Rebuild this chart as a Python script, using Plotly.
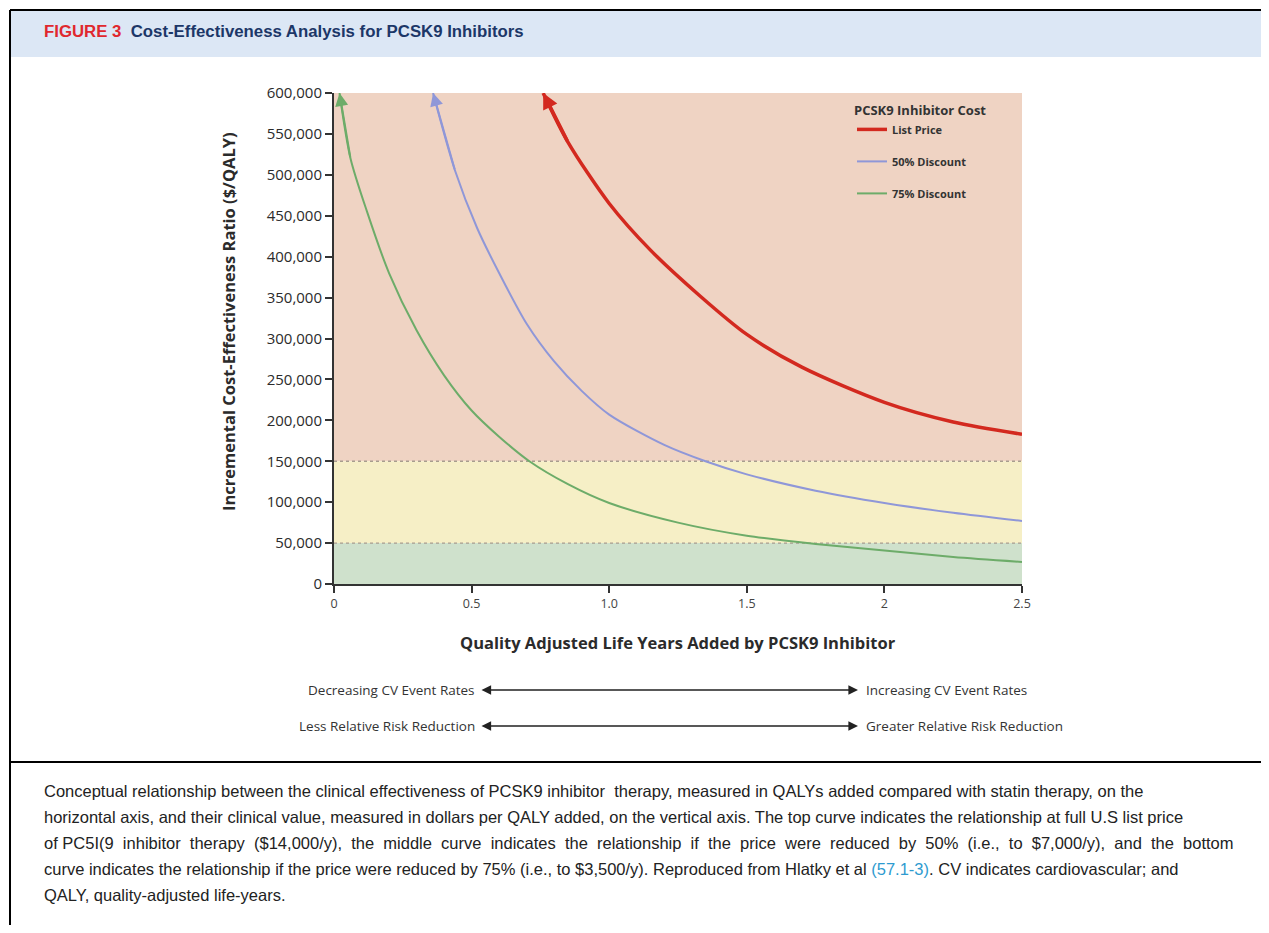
"""Cost-effectiveness curves for PCSK9 inhibitors (Figure 3 recreation)."""

import plotly.graph_objects as go

# ---- data ----
list_qaly = [0.76, 0.85, 1.0, 1.15, 1.33, 1.5, 1.7, 2.0, 2.25, 2.5]
list_icer = [600000, 540000, 465000, 408000, 352000, 305000, 265000, 222000, 198000, 183000]

half_qaly = [0.36, 0.44, 0.52, 0.6, 0.7, 0.8, 0.9, 1.0, 1.2, 1.35, 1.5, 1.75, 2.0, 2.25, 2.5]
half_icer = [600000, 505000, 435000, 380000, 318000, 272000, 236000, 207000, 170000, 150000,
             134000, 114000, 99000, 87000, 77000]

quarter_qaly = [0.02, 0.06, 0.12, 0.2, 0.3, 0.4, 0.5, 0.6, 0.71, 0.85, 1.0, 1.25, 1.5, 1.75, 2.0, 2.25, 2.5]
quarter_icer = [600000, 520000, 455000, 380000, 310000, 255000, 212000, 180000, 150000, 122000,
                99000, 75000, 59000, 49000, 41000, 33000, 27000]

series_names = ["List Price", "50% Discount", "75% Discount"]

y_ticks = [0, 50000, 100000, 150000, 200000, 250000, 300000, 350000, 400000, 450000, 500000, 550000, 600000]
x_ticks = [0, 0.5, 1.0, 1.5, 2.0, 2.5]
x_tick_text = ["0", "0.5", "1.0", "1.5", "2", "2.5"]

thresholds = [50000, 150000]

caption_lines = [
    "Conceptual relationship between the clinical effectiveness of PCSK9 inhibitor  therapy, measured in QALYs added compared with statin therapy, on the",
    "horizontal axis, and their clinical value, measured in dollars per QALY added, on the vertical axis. The top curve indicates the relationship at full U.S list price",
    "of PC5I(9  inhibitor  therapy  ($14,000/y),  the  middle  curve  indicates  the  relationship  if  the  price  were  reduced  by  50%  (i.e.,  to  $7,000/y),  and  the  bottom",
    "curve indicates the relationship if the price were reduced by 75% (i.e., to $3,500/y). Reproduced from Hlatky et al "
    "<span style='color:#2e9bd0'>(57.1-3)</span>. CV indicates cardiovascular; and",
    "QALY, quality-adjusted life-years.",
]

# ---- styling ----
RED = "#d3291f"
BLUE = "#8f97d8"
GREEN = "#6dac69"
CHART_FONT = "Open Sans, sans-serif"
CAPTION_FONT = "Liberation Sans, Arial, sans-serif"

# page geometry (browser body margin is 8px)
OFFSET = 8
W, H = 1253, 917
PLOT_L, PLOT_R, PLOT_T, PLOT_B = 334, 1022, 93, 584


def px(p):
    return (p - PLOT_L) / (PLOT_R - PLOT_L)


def py(p):
    return (PLOT_B - p) / (PLOT_B - PLOT_T)


fig = go.Figure()

for name, xs, ys, color, width, head in [
    (series_names[0], list_qaly, list_icer, RED, 3.5, 0.9),
    (series_names[1], half_qaly, half_icer, BLUE, 2, 1.3),
    (series_names[2], quarter_qaly, quarter_icer, GREEN, 2, 1.3),
]:
    fig.add_trace(go.Scatter(
        x=xs, y=ys, mode="lines", name=name, legendgroup=name,
        line=dict(color=color, width=width, shape="spline", smoothing=0.8),
        hoverinfo="skip",
    ))
    # arrowhead at the top of each curve
    fig.add_annotation(
        x=xs[0], y=ys[0], ax=xs[1], ay=ys[1], xref="x", yref="y", axref="x", ayref="y",
        text="", showarrow=True, arrowhead=2, arrowsize=head,
        arrowwidth=width, arrowcolor=color,
    )

# background zones
fig.add_shape(type="rect", x0=0, x1=2.5, y0=thresholds[1], y1=600000, xref="x", yref="y",
              fillcolor="#efd3c3", line_width=0, layer="below")
fig.add_shape(type="rect", x0=0, x1=2.5, y0=thresholds[0], y1=thresholds[1], xref="x", yref="y",
              fillcolor="#f6efc6", line_width=0, layer="below")
fig.add_shape(type="rect", x0=0, x1=2.5, y0=0, y1=thresholds[0], xref="x", yref="y",
              fillcolor="#cfe1cc", line_width=0, layer="below")
for t in thresholds:
    fig.add_shape(type="line", x0=0, x1=2.5, y0=t, y1=t, xref="x", yref="y",
                  line=dict(color="#a89c8e", width=1.3, dash="dot"), layer="below")

# page frame + header band
fig.add_shape(type="rect", xref="paper", yref="paper", x0=px(11), x1=px(1262), y0=py(57), y1=py(11),
              fillcolor="#dce7f5", line_width=0, layer="below")
frame = dict(color="black", width=2)
fig.add_shape(type="line", xref="paper", yref="paper", x0=px(10), x1=px(10), y0=py(940), y1=py(10), line=frame)
fig.add_shape(type="line", xref="paper", yref="paper", x0=px(10), x1=px(1262), y0=py(10), y1=py(10), line=frame)
fig.add_shape(type="line", xref="paper", yref="paper", x0=px(10), x1=px(1262), y0=py(762), y1=py(762), line=frame)

# header title
fig.add_annotation(
    xref="paper", yref="paper", x=px(42), y=py(32), xanchor="left", yanchor="middle", showarrow=False,
    text="<span style='color:#e0282e'>FIGURE 3</span>  <span style='color:#1c3768'>Cost-Effectiveness Analysis for PCSK9 Inhibitors</span>",
    font=dict(family=CAPTION_FONT, size=16.8, weight="bold"),
)

# axis titles
fig.add_annotation(
    xref="paper", yref="paper", x=px(228), y=py(322), xanchor="center", yanchor="middle",
    textangle=-90, showarrow=False,
    text="Incremental Cost-Effectiveness Ratio ($/QALY)",
    font=dict(family=CHART_FONT, size=16.5, color="#2b2b2b", weight="bold"),
)
fig.add_annotation(
    xref="paper", yref="paper", x=px(678), y=py(642), xanchor="center", yanchor="middle", showarrow=False,
    text="Quality Adjusted Life Years Added by PCSK9 Inhibitor",
    font=dict(family=CHART_FONT, size=16.5, color="#2b2b2b", weight="bold"),
)

# double-headed direction arrows
for row_y, left_txt, right_txt in [
    (690, "Decreasing CV Event Rates", "Increasing CV Event Rates"),
    (726, "Less Relative Risk Reduction", "Greater Relative Risk Reduction"),
]:
    fig.add_annotation(
        xref="paper", yref="paper", x=px(858), y=py(row_y), ax=-(858 - 480), ay=0,
        text="", showarrow=True, arrowside="end+start", arrowhead=2, arrowsize=1.2,
        arrowwidth=1.6, arrowcolor="#222222",
    )
    fig.add_annotation(
        xref="paper", yref="paper", x=px(477), y=py(row_y), xanchor="right", yanchor="middle",
        showarrow=False, text=left_txt, font=dict(family=CHART_FONT, size=13.5, color="#333333"),
    )
    fig.add_annotation(
        xref="paper", yref="paper", x=px(864), y=py(row_y), xanchor="left", yanchor="middle",
        showarrow=False, text=right_txt, font=dict(family=CHART_FONT, size=13.5, color="#333333"),
    )

# caption
for i, line in enumerate(caption_lines):
    fig.add_annotation(
        xref="paper", yref="paper", x=px(42), y=py(791 + 26 * i), xanchor="left", yanchor="middle",
        showarrow=False, text=line, font=dict(family=CAPTION_FONT, size=16.5, color="#222222"),
    )

fig.update_layout(
    width=W, height=H,
    margin=dict(l=PLOT_L - OFFSET, r=W + OFFSET - PLOT_R, t=PLOT_T - OFFSET, b=H + OFFSET - PLOT_B),
    paper_bgcolor="white",
    plot_bgcolor="white",
    font=dict(family=CHART_FONT, color="#2b2b2b"),
    showlegend=True,
    legend=dict(
        x=px(852), y=py(98), xanchor="left", yanchor="top",
        bgcolor="rgba(0,0,0,0)",
        title=dict(text="PCSK9 Inhibitor Cost", font=dict(size=13, color="#333333", weight="bold")),
        font=dict(size=11, color="#333333", weight="bold"),
        traceorder="grouped", tracegroupgap=13, itemwidth=30,
    ),
)

fig.update_xaxes(
    range=[0, 2.5], tickvals=x_ticks, ticktext=x_tick_text,
    showgrid=False, zeroline=False, showline=True, linecolor="#333333", linewidth=2,
    ticks="outside", ticklen=7, tickwidth=1.5, tickcolor="#333333",
    tickfont=dict(size=12.5, color="#444444"),
)
fig.update_yaxes(
    range=[0, 600000], tickvals=y_ticks, tickformat=",d",
    showgrid=False, zeroline=False, showline=True, linecolor="#333333", linewidth=2,
    ticks="outside", ticklen=7, tickwidth=1.5, tickcolor="#333333",
    tickfont=dict(size=15, color="#2b2b2b"),
)

fig.write_html("out.html")
